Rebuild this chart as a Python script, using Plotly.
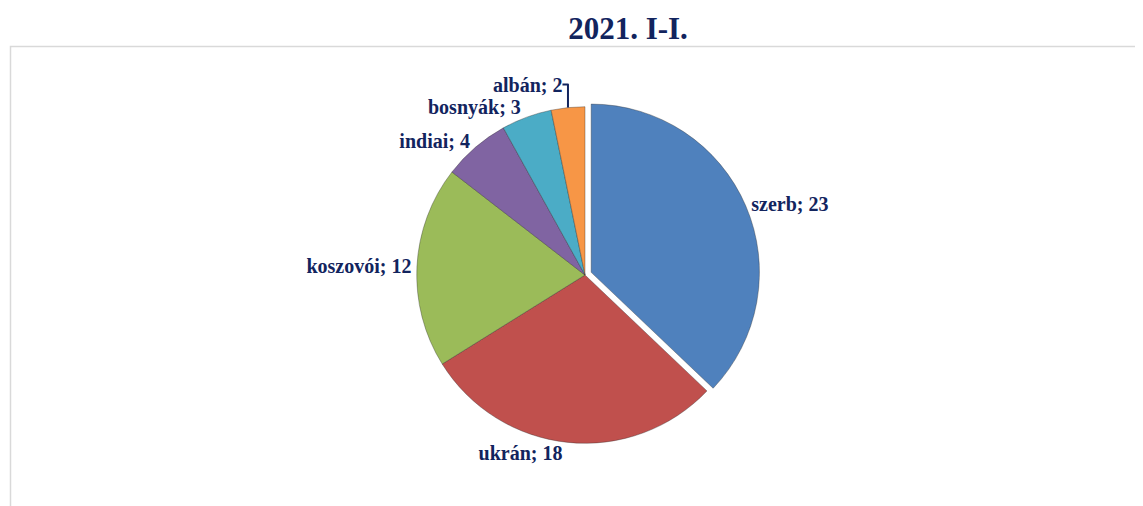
import plotly.graph_objects as go

labels = ["szerb", "ukrán", "koszovói", "indiai", "bosnyák", "albán"]
values = [23, 18, 12, 4, 3, 2]
colors = ["#4F81BD", "#C0504D", "#9BBB59", "#8064A2", "#4BACC6", "#F79646"]
pulls = [0.04, 0, 0, 0, 0, 0]
title_text = "2021. I-I."

# the page body adds an 8px margin; size and place everything to compensate
OFF = 8
W, H = 1143 - OFF, 506 - OFF
navy = "#12245E"


def px_x(x):
    return (x - OFF) / W


def px_y(y):
    return 1 - (y - OFF) / H


fig = go.Figure(go.Pie(
    labels=labels,
    values=values,
    sort=False,
    direction="clockwise",
    rotation=0,
    pull=pulls,
    marker=dict(colors=colors, line=dict(color="rgba(40,40,40,0.35)", width=1)),
    texttemplate="%{label}; %{value}",
    textposition="outside",
    textfont=dict(family="Liberation Serif", size=20, color=navy, weight="bold"),
    domain=dict(x=[px_x(585 - 185), px_x(585 + 185)], y=[px_y(450), px_y(100)]),
    showlegend=False,
    hoverinfo="label+value+percent",
))

fig.update_layout(
    width=W, height=H,
    margin=dict(l=0, r=0, t=0, b=0),
    paper_bgcolor="white",
    plot_bgcolor="white",
    title=dict(
        text=title_text,
        x=px_x(628), xanchor="center",
        y=px_y(28), yanchor="middle",
        font=dict(family="Liberation Serif", size=31, color=navy, weight="bold"),
    ),
    shapes=[dict(
        type="rect", xref="paper", yref="paper",
        x0=px_x(10.5), x1=1.02, y0=-0.02, y1=px_y(46.5),
        line=dict(color="#D9D9D9", width=1.5),
        fillcolor="rgba(0,0,0,0)",
        layer="below",
    )],
)

fig.write_html("out.html")
